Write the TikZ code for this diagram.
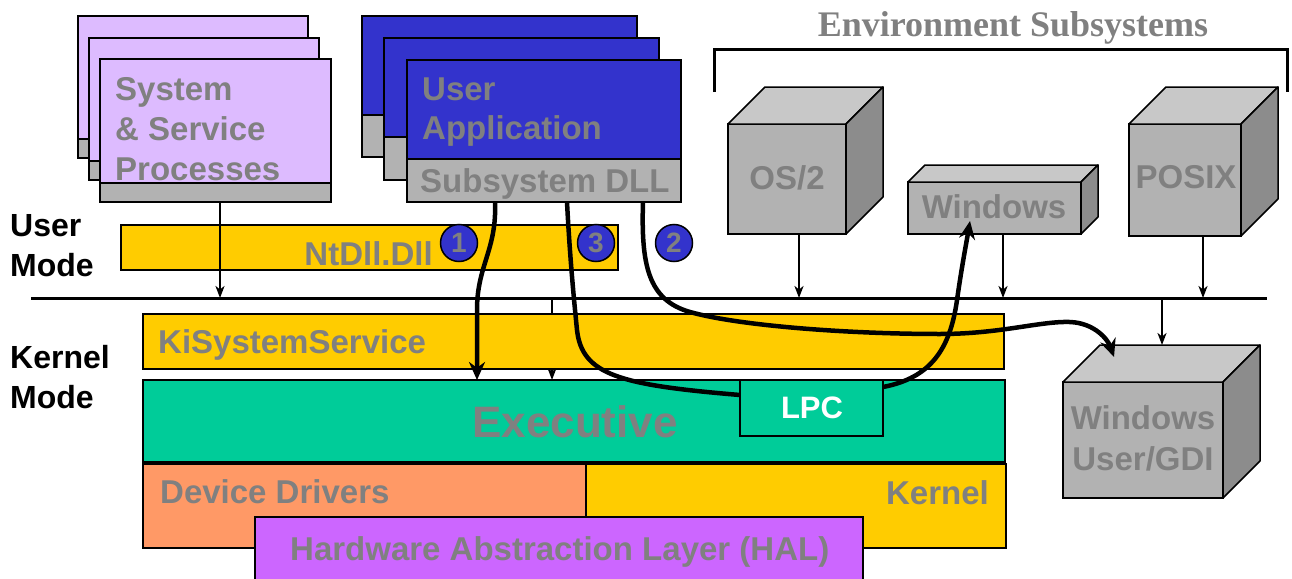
\documentclass[tikz,border=0pt]{standalone}
\usepackage{fontspec}
\setmainfont{Liberation Sans}
\newfontfamily\serifbf{Liberation Serif}
\usetikzlibrary{arrows.meta}
\definecolor{lav}{RGB}{221,187,255}
\definecolor{appblue}{RGB}{51,51,204}
\definecolor{stripg}{RGB}{178,178,178}
\definecolor{gold}{RGB}{255,204,0}
\definecolor{tealc}{RGB}{0,204,153}
\definecolor{salmon}{RGB}{255,153,102}
\definecolor{halp}{RGB}{204,102,255}
\definecolor{txtgray}{RGB}{128,128,128}
\definecolor{cubefr}{RGB}{178,178,178}
\definecolor{cubetp}{RGB}{200,200,200}
\definecolor{cubert}{RGB}{140,140,140}
\newcommand\fsz[1]{\fontsize{#1}{#1}\selectfont}
\newcommand\mycube[6]{%
  \node[blk, fill=cubefr, minimum width=#4pt, minimum height=#5pt] (#1) at (#2,#3) {};
  \filldraw[line width=1.5pt, fill=cubetp, line join=round] (#1.north west) -- ++(#6,-#6) -- ++(#4,0) -- (#1.north east) -- cycle;
  \filldraw[line width=1.5pt, fill=cubert, line join=round] (#1.north east) -- ++(#6,-#6) -- ++(0,#5) -- (#1.south east) -- cycle;
}
\begin{document}
\begin{tikzpicture}[x=1pt,y=-1pt,
  blk/.style={draw=black, line width=1.6pt, inner sep=0pt, outer sep=0pt, anchor=north west},
  gtxt/.style={text=txtgray, font=\fsz{33}\bfseries, inner sep=0pt, anchor=base west},
  ktxt/.style={text=black, font=\fsz{32}\bfseries, inner sep=0pt, anchor=base west},
  thinarr/.style={line width=2pt, -{Stealth[length=12pt,width=9pt,inset=3.5pt]}},
  thickarr/.style={line width=4.5pt, -{Stealth[length=18pt,width=16pt]}},
  thickline/.style={line width=4.5pt},
  num/.style={circle, draw=black, line width=1.5pt, fill=appblue, minimum size=37pt, inner sep=0pt, text=txtgray, font=\fsz{28}\bfseries}
]
\useasboundingbox (0,0) rectangle (1292,578);
\clip (0,0) rectangle (1292,578);

% ---- System & Service Processes stack
\node[blk, fill=lav, minimum width=230pt, minimum height=123pt] (sysA) at (78,16) {};
\node[blk, fill=stripg, minimum width=230pt, minimum height=19pt] (sysAs) at (78,139) {};
\node[blk, fill=lav, minimum width=230pt, minimum height=123pt] (sysB) at (89,38) {};
\node[blk, fill=stripg, minimum width=230pt, minimum height=19pt] (sysBs) at (89,161) {};
\node[blk, fill=lav, minimum width=231pt, minimum height=124pt] (sysC) at (100,59) {};
\node[blk, fill=stripg, minimum width=231pt, minimum height=19pt] (sysCs) at (100,183) {};
\node[gtxt] (t1) at (115,100) {System};
\node[gtxt] (t2) at (115,140) {\& Service};
\node[gtxt] (t3) at (115,180) {Processes};

% ---- User Application stack
\node[blk, fill=appblue, minimum width=275pt, minimum height=99pt] (appA) at (362,16) {};
\node[blk, fill=stripg, minimum width=275pt, minimum height=42pt] (appAs) at (362,115) {};
\node[blk, fill=appblue, minimum width=275pt, minimum height=99pt] (appB) at (384,38) {};
\node[blk, fill=stripg, minimum width=275pt, minimum height=43pt] (appBs) at (384,137) {};
\node[blk, fill=appblue, minimum width=274pt, minimum height=99pt] (appC) at (407,60) {};
\node[blk, fill=stripg, minimum width=274pt, minimum height=43pt] (dll) at (407,159) {};
\node[gtxt] (t4) at (422,100) {User};
\node[gtxt] (t5) at (422,139) {Application};
\node[gtxt] (t6) at (420,192) {Subsystem DLL};

% ---- NtDll
\node[blk, fill=gold, minimum width=497pt, minimum height=45pt] (ntdll) at (121,225) {};
\node[gtxt, anchor=base east] (t7) at (433,265) {NtDll.Dll};
\node[num] (n1) at (459,243) {1};
\node[num] (n3) at (596,243) {3};
\node[num] (n2) at (674,243) {2};

% ---- mode labels
\node[ktxt] (um1) at (10,236) {User};
\node[ktxt] (um2) at (10,276) {Mode};
\node[ktxt] (km1) at (10,368) {Kernel};
\node[ktxt] (km2) at (10,408) {Mode};

% ---- bus
\coordinate (busL) at (31,298);
\coordinate (busR) at (1267,298);
\coordinate (pOut) at (220,202);
\coordinate (pIn) at (220,298);
\draw[thinarr] (pOut) -- (pIn);
\draw[line width=3pt] (busL) -- (busR);

% thin arrow behind KiSystemService
\coordinate (mTop) at (552,298);
\coordinate (mBot) at (552,380);
\draw[thinarr] (mTop) -- (mBot);

% ---- kernel layers
\node[blk, fill=gold, minimum width=861pt, minimum height=55pt] (kiss) at (143,314) {};
\node[gtxt] (t8) at (158,353) {KiSystemService};
\node[blk, fill=tealc, minimum width=862pt, minimum height=82pt] (exec) at (143,380) {};
\node[gtxt, anchor=base, font=\fsz{44}\bfseries] (t9) at (575,437) {Executive};
\node[blk, fill=tealc, minimum width=143pt, minimum height=56pt] (lpc) at (740,380) {};
\node[gtxt, anchor=base, text=white, font=\fsz{31}\bfseries] (t10) at (812,418) {LPC};
\node[blk, fill=salmon, minimum width=443pt, minimum height=84pt] (drv) at (143,464) {};
\node[gtxt] (t11) at (160,503) {Device Drivers};
\node[blk, fill=gold, minimum width=420pt, minimum height=84pt] (kern) at (586,464) {};
\node[gtxt, anchor=base east] (t12) at (989,504) {Kernel};
\node[blk, fill=halp, minimum width=608pt, minimum height=75pt] (hal) at (255,517) {};
\node[gtxt] (t13) at (290,560) {Hardware Abstraction Layer (HAL)};

% ---- Environment subsystems
\node[anchor=base, text=txtgray, font=\serifbf\fsz{36}\bfseries, inner sep=0pt] (t14) at (1013,37) {Environment Subsystems};
\draw[line width=3pt] (714,92) -- (714,50) -- (1287,50) -- (1287,92);

\mycube{os2}{728}{124}{118}{110}{37}
\mycube{win}{908}{182}{173}{52}{17}
\mycube{posix}{1129}{124}{112}{112}{37}
\mycube{gdi}{1063}{382}{160}{116}{37}
\node[gtxt, anchor=base] (t15) at (787,189) {OS/2};
\node[gtxt, anchor=base] (t16) at (994,218) {Windows};
\node[gtxt, anchor=base] (t17) at (1186,188) {POSIX};
\node[gtxt, anchor=base] (t18) at (1143,429) {Windows};
\node[gtxt, anchor=base] (t19) at (1143,470) {User/GDI};

\coordinate (b1) at (799,298);
\coordinate (b2) at (1003,298);
\coordinate (b3) at (1203,298);
\coordinate (b4) at (1162,298);
\coordinate (gdiTop) at (1162,345);
\draw[thinarr] (os2.south -| b1) -- (b1);
\draw[thinarr] (win.south -| b2) -- (b2);
\draw[thinarr] (posix.south -| b3) -- (b3);
\draw[thinarr] (b4) -- (gdiTop);

% ---- thick call paths
\coordinate (c1s) at (495,202);
\coordinate (c1e) at (477,380);
\draw[thickarr] (c1s) .. controls (497,250) and (477,265) .. (477,310) -- (c1e);

\coordinate (c3s) at (567,202);
\coordinate (lpcL) at (740,395);
\coordinate (lpcR) at (883,387);
\coordinate (winIn) at (970,221);
\draw[thickline] (c3s) .. controls (570,260) and (574,300) .. (577,330) .. controls (582,375) and (620,385) .. (lpcL);
\draw[thickarr] (lpcR) .. controls (930,378) and (950,350) .. (957,300) .. controls (962,265) and (966,245) .. (winIn);

\coordinate (c2s) at (643,202);
\coordinate (gdiIn) at (1114,357);
\draw[thickarr] (c2s) .. controls (641,265) and (648,300) .. (690,312) .. controls (740,326) and (850,334) .. (940,334) .. controls (1000,334) and (1040,321) .. (1070,322) .. controls (1095,323) and (1108,340) .. (gdiIn);
\end{tikzpicture}
\end{document}
